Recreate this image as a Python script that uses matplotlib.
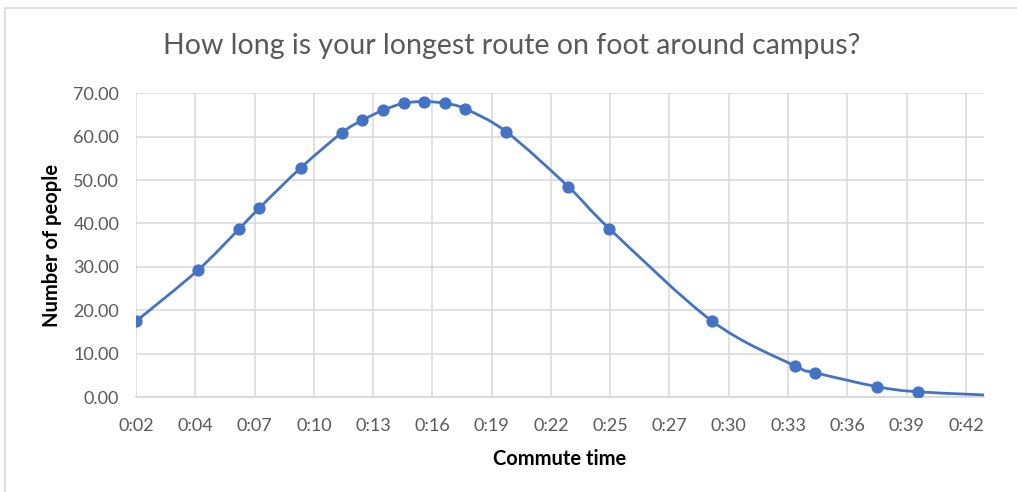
import numpy as np
import matplotlib
matplotlib.use("Agg")
import matplotlib.pyplot as plt
from matplotlib.path import Path
from matplotlib.patches import PathPatch, Rectangle
from matplotlib.ticker import FixedLocator, FuncFormatter

# Commute time in minutes and number of people at each time
commute_minutes = [2, 5, 7, 8, 10, 12, 13, 14, 15, 16, 17, 18, 20, 23, 25,
                   30, 34, 35, 38, 40, 45]
people = [17.45, 29.2, 38.7, 43.6, 52.8, 60.9, 63.8, 66.1, 67.7, 68.1, 67.7,
          66.4, 61.1, 48.5, 38.8, 17.45, 7.2, 5.6, 2.4, 1.2, 0.12]

title = "How long is your longest route on foot around campus?"
x_title = "Commute time"
y_title = "Number of people"

# Axis span (minutes) and major unit of 0.002 day
x_min, x_max = 2.0, 43.2
x_step = 2.88
y_ticks = [0, 10, 20, 30, 40, 50, 60, 70]

BLUE = "#4472C4"
GRID = "#d9d9d9"
TICK = "#595959"
FONT = "Lato"

fig = plt.figure(figsize=(10.17, 4.92), dpi=100)
fig.patch.set_facecolor("white")

# chart-area frame
fig.add_artist(Rectangle((5 / 1017, -0.1), 1.2, 1 - 8 / 492 + 0.1,
                         transform=fig.transFigure, fill=False,
                         edgecolor=GRID, linewidth=1.2))

ax = fig.add_axes([136 / 1017, 1 - 397 / 492, (984 - 136) / 1017, (397 - 93.3) / 492])
ax.set_xlim(x_min, x_max)
ax.set_ylim(0, 70)


def smooth_path(xs, ys, k=1 / 6):
    """Bezier path through the points with Catmull-Rom style tangents."""
    pts = np.column_stack([xs, ys]).astype(float)
    n = len(pts)
    verts = [pts[0]]
    codes = [Path.MOVETO]
    for i in range(n - 1):
        p0 = pts[i - 1] if i > 0 else pts[i]
        p1 = pts[i]
        p2 = pts[i + 1]
        p3 = pts[i + 2] if i + 2 < n else pts[i + 1]
        c1 = p1 + (p2 - p0) * k
        c2 = p2 - (p3 - p1) * k
        verts += [c1, c2, p2]
        codes += [Path.CURVE4] * 3
    return Path(verts, codes)


curve = PathPatch(smooth_path(commute_minutes, people), facecolor="none",
                  edgecolor=BLUE, linewidth=2.0, zorder=3, capstyle="butt")
ax.add_patch(curve)
ax.plot(commute_minutes, people, linestyle="none", marker="o", markersize=7.8,
        color=BLUE, zorder=4, clip_on=True)

xt = [x_min + i * x_step for i in range(15)]
ax.xaxis.set_major_locator(FixedLocator(xt))
ax.xaxis.set_major_formatter(
    FuncFormatter(lambda v, p: f"{int((v + 1e-6) // 60)}:{int((v + 1e-6) % 60):02d}"))
ax.yaxis.set_major_locator(FixedLocator(y_ticks))
ax.yaxis.set_major_formatter(FuncFormatter(lambda v, p: f"{v:.2f}"))

ax.grid(True, color=GRID, linewidth=1.1)
ax.set_axisbelow(True)
for s in ["top", "right", "left"]:
    ax.spines[s].set_visible(False)
ax.spines["bottom"].set_color(GRID)
ax.spines["bottom"].set_linewidth(1.3)
ax.tick_params(length=0, labelsize=13, labelcolor=TICK)
ax.tick_params(axis="y", pad=12)
ax.tick_params(axis="x", pad=15)
for lbl in ax.get_xticklabels() + ax.get_yticklabels():
    lbl.set_fontfamily(FONT)

ax.set_xlabel(x_title, fontsize=14.5, fontweight="bold", family=FONT,
              color="black", labelpad=11)
ax.set_ylabel(y_title, fontsize=14.5, fontweight="bold", family=FONT,
              color="black", labelpad=8)
fig.text(512 / 1017, 1 - 46 / 492, title, ha="center", va="center",
         fontsize=20.5, family=FONT, color=TICK, fontweight="normal")

fig.savefig("out.png", dpi=100, facecolor="white")
